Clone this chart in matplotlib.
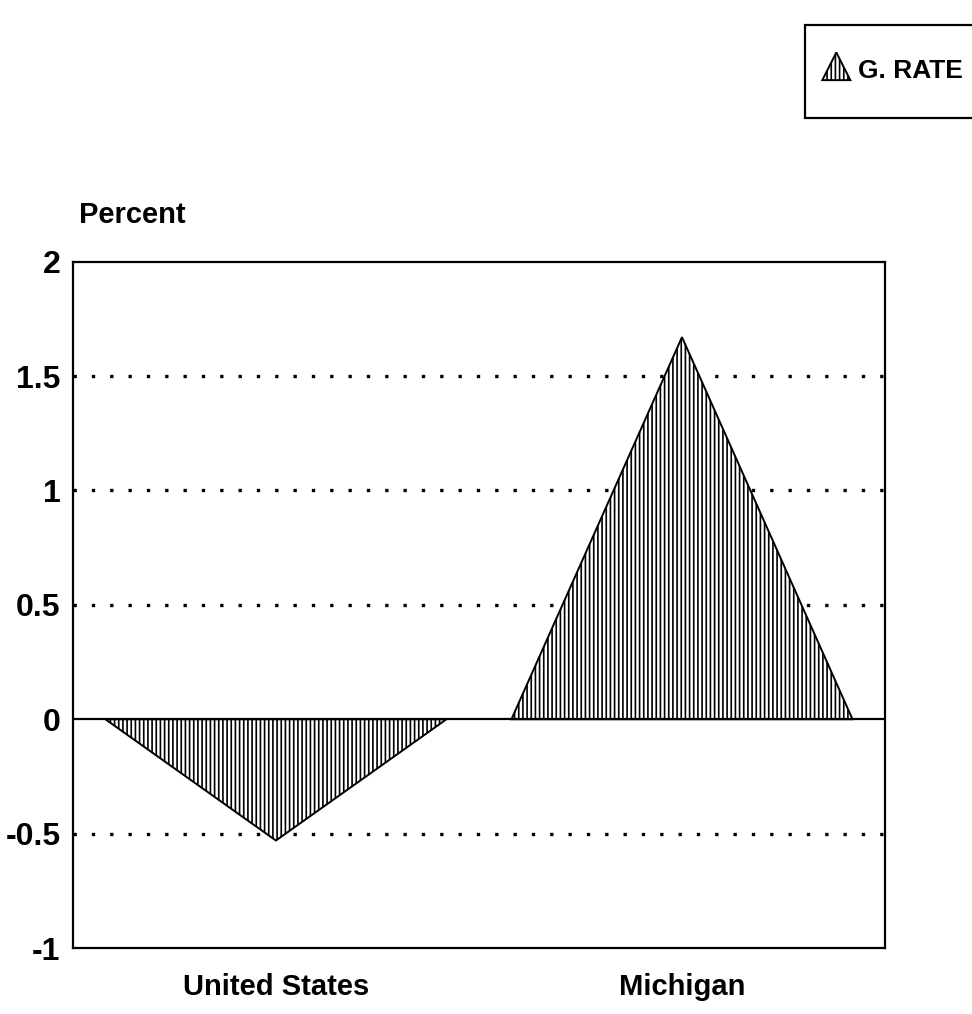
import matplotlib
matplotlib.use("Agg")
import matplotlib.pyplot as plt
from matplotlib.patches import Polygon
from matplotlib.legend_handler import HandlerPatch

categories = ["United States", "Michigan"]
growth_rate = [-0.53, 1.67]
series_label = "G. RATE"
y_ticks = [-1, -0.5, 0, 0.5, 1, 1.5, 2]
y_tick_labels = ["-1", "-0.5", "0", "0.5", "1", "1.5", "2"]
grid_levels = [-0.5, 0.5, 1, 1.5]

plt.rcParams['font.family'] = ['Liberation Sans', 'DejaVu Sans']
plt.rcParams['font.weight'] = 'bold'
plt.rcParams['hatch.linewidth'] = 1.2

fig = plt.figure(figsize=(9.72, 10.14), dpi=100)
ax = fig.add_axes([0.075, 0.065, 0.8355, 0.677])

half_w = 0.42
for i, v in enumerate(growth_rate):
    xs = [i - half_w, i, i + half_w]
    ys = [0, v, 0]
    ax.fill(xs, ys, facecolor='white', edgecolor='black', hatch='||||', linewidth=1.4, zorder=3)

for g in grid_levels:
    ax.axhline(g, color='black', linestyle=(0, (1, 4.5)), linewidth=2.4, zorder=1)
ax.axhline(0, color='black', linewidth=1.6, zorder=4)

ax.set_xlim(-0.5, 1.5)
ax.set_ylim(-1, 2)
ax.set_yticks(y_ticks)
ax.set_yticklabels(y_tick_labels, fontsize=23, fontweight='bold')
ax.set_xticks(range(len(categories)))
ax.set_xticklabels(categories, fontsize=21, fontweight='bold')
ax.tick_params(axis='both', length=0)
ax.tick_params(axis='y', pad=9)
ax.tick_params(axis='x', pad=18)
for s in ax.spines.values():
    s.set_linewidth(1.6)

ax.text(0.008, 1.048, "Percent", transform=ax.transAxes, fontsize=21, fontweight='bold',
        ha='left', va='bottom')

def tri_patch(legend, orig_handle, xdescent, ydescent, width, height, fontsize):
    x0 = xdescent - 1.17 * width
    y0 = ydescent - 0.1 * height
    w = 1.93 * width
    return Polygon([[x0, y0], [x0 + w / 2, y0 + height * 1.5],
                    [x0 + w, y0]], closed=True)

handle = Polygon([[0, 0], [0.5, 1], [1, 0]], facecolor='white', edgecolor='black',
                 hatch='||||', linewidth=1.4)
leg = fig.legend([handle], [series_label], loc='upper left',
                 bbox_to_anchor=(805 / 972, 1 - 25 / 1014),
                 handler_map={Polygon: HandlerPatch(patch_func=tri_patch)},
                 prop={'size': 19, 'weight': 'bold'}, fancybox=False, edgecolor='black',
                 framealpha=1, borderpad=1.3, handlelength=0.55, handletextpad=0.17,
                 borderaxespad=0)
leg.get_frame().set_linewidth(1.6)

fig.savefig("out.png", dpi=100)
